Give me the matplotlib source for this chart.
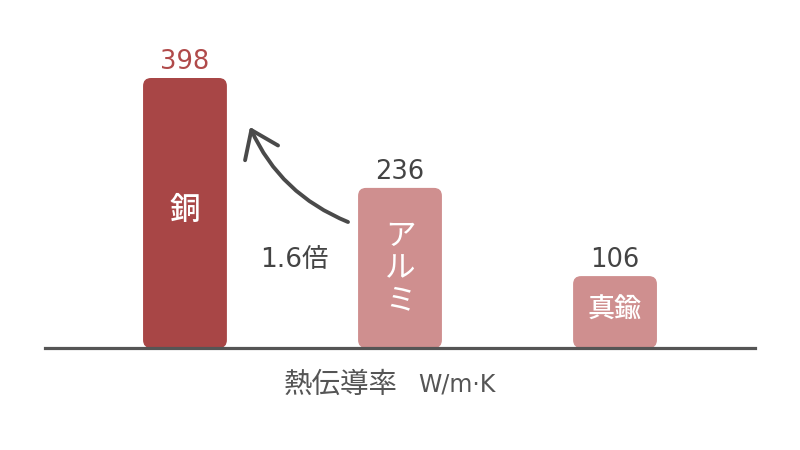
import matplotlib
matplotlib.use("Agg")
import matplotlib.pyplot as plt
from matplotlib.patches import FancyBboxPatch, FancyArrowPatch

plt.rcParams['font.family'] = ['Noto Sans CJK JP', 'DejaVu Sans']
latin = ['DejaVu Sans', 'Noto Sans CJK JP']

# thermal conductivity, W/m·K
metals = ['銅', 'アルミ', '真鍮']
values = [398, 236, 106]
bar_colors = ['#a84646', '#cf8f8f', '#cf8f8f']
value_colors = ['#b04a4a', '#444444', '#444444']
ratio_label = '1.6倍'
axis_label = '熱伝導率'
unit_label = 'W/m·K'

fig = plt.figure(figsize=(8, 4.5), dpi=100)
# axes spans the baseline from x=45px to 755px, y from baseline (348px) to top
ax = fig.add_axes([45 / 800, 1 - 348 / 450, 710 / 800, 348 / 450])
ax.set_xlim(-0.651, 2.651)
ax.set_ylim(0, 348 * 398 / 270)
ax.axis('off')

bw = 0.39
px_y = 398 / 270          # data units per pixel in y
px_x = 1 / 215            # data units per pixel in x
r = 8 * px_x
aspect = px_y / px_x

for i, (name, v) in enumerate(zip(metals, values)):
    box = FancyBboxPatch((i - bw / 2, 0), bw, v,
                         boxstyle=f"round,pad=0,rounding_size={r}",
                         mutation_aspect=aspect,
                         fc=bar_colors[i], ec='none', zorder=2)
    ax.add_patch(box)
    ax.text(i, v + 9 * px_y, str(v), ha='center', va='baseline',
            fontsize=18.5, color=value_colors[i], family=latin)

# labels inside bars
ax.text(0, (348 - 210) * px_y, metals[0], ha='center', va='center',
        fontsize=22, color='white', zorder=3, weight='medium')
ax.text(1, (348 - 269) * px_y, '\n'.join(metals[1]), ha='center', va='center',
        fontsize=22, color='white', linespacing=1.05, zorder=3)
ax.text(2, (348 - 310) * px_y, metals[2], ha='center', va='center',
        fontsize=19.5, color='white', zorder=3, weight='medium')

# baseline
ax.axhline(0, color='#555555', lw=2.3, zorder=4, clip_on=False)

# curved arrow from aluminium to copper
arrow = FancyArrowPatch(((348 - 185) * px_x, (348 - 222) * px_y),
                        ((250 - 185) * px_x, (348 - 127) * px_y),
                        connectionstyle="arc3,rad=-0.2",
                        arrowstyle="->,head_length=0.9,head_width=0.65",
                        mutation_scale=20, lw=2.8, color='#4a4a4a',
                        shrinkA=0, shrinkB=0, capstyle='round',
                        joinstyle='round', zorder=3)
ax.add_patch(arrow)

ax.text((294 - 185) * px_x, (348 - 260) * px_y, ratio_label, ha='center',
        va='center', fontsize=19, color='#444444', family=latin)

fig.text(398 / 800, 1 - 385 / 450, axis_label, ha='right', va='center',
         fontsize=20.5, color='#555555')
fig.text(418 / 800, 1 - 385 / 450, unit_label, ha='left', va='center',
         fontsize=17, color='#555555', family=latin)

fig.savefig('out.png', dpi=100, facecolor='white')
